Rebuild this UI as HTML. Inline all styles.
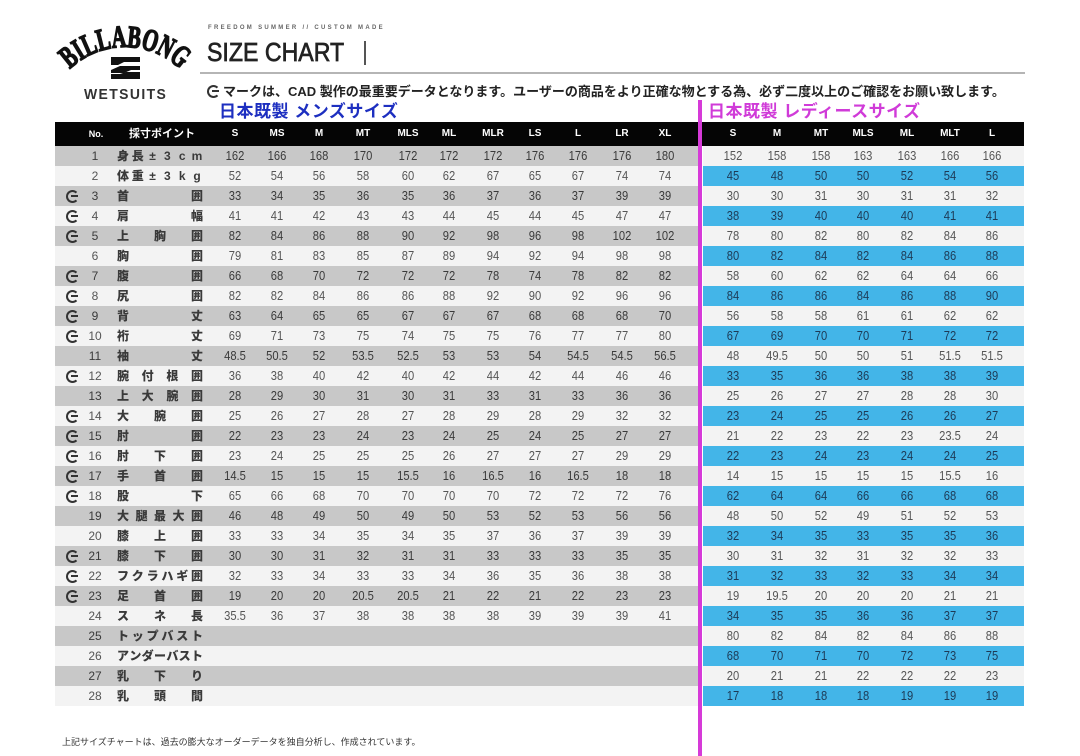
<!DOCTYPE html>
<html><head><meta charset="utf-8">
<style>
*{margin:0;padding:0;box-sizing:border-box}
body{width:1080px;height:756px;background:#fff;position:relative;overflow:hidden;font-family:"Liberation Sans","Noto Sans CJK JP",sans-serif}
.a{position:absolute}
.L{position:absolute;left:55px;width:643px;height:20px}
.R{position:absolute;left:703px;width:321px;height:20px}
.g1{background:#c8c8c8;color:#3a3a3a}
.w{background:#f3f3f3;color:#555}
.b{background:#43b5e8;color:#1d3a56}
.L i,.R i{position:absolute;top:0;width:40px;text-align:center;font-style:normal;font-size:13px;line-height:20px;transform:scaleX(.86)}
.L i:nth-of-type(1){left:160px}.L i:nth-of-type(2){left:202px}.L i:nth-of-type(3){left:244px}.L i:nth-of-type(4){left:288px}
.L i:nth-of-type(5){left:333px}.L i:nth-of-type(6){left:374px}.L i:nth-of-type(7){left:418px}.L i:nth-of-type(8){left:460px}
.L i:nth-of-type(9){left:503px}.L i:nth-of-type(10){left:547px}.L i:nth-of-type(11){left:590px}
.R i:nth-of-type(1){left:10px}.R i:nth-of-type(2){left:54px}.R i:nth-of-type(3){left:98px}.R i:nth-of-type(4){left:140px}
.R i:nth-of-type(5){left:184px}.R i:nth-of-type(6){left:227px}.R i:nth-of-type(7){left:269px}
.n{position:absolute;left:30px;top:0;width:20px;text-align:center;font-size:12px;line-height:20px}
.lb{position:absolute;left:62px;width:86px;top:0;height:20px;display:flex;justify-content:space-between;font-size:12px;line-height:20px;font-weight:bold;color:#3a3a3a}
.lb b{width:12px;text-align:center;display:block}
.g{position:absolute;width:13px;height:13px;border:2.2px solid #333;border-right-color:transparent;border-radius:50%}
.g::after{content:"";position:absolute;left:3px;top:3.3px;width:7px;height:2.2px;background:#333}
.L .g{left:11px;top:3.5px}
.h{position:absolute;top:122px;width:40px;text-align:center;color:#fff;font-weight:bold;font-size:10px;line-height:24px}
</style></head><body>

<svg class="a" style="left:0;top:0" width="210" height="110" viewBox="0 0 210 110">
<path id="arc" d="M 45 127 A 80 80 0 0 1 205 127" fill="none"/>
<text font-family="Liberation Serif" font-weight="bold" font-size="31" fill="#111" stroke="#111" stroke-width="1.6"><textPath href="#arc" startOffset="50%" text-anchor="middle" textLength="122" lengthAdjust="spacingAndGlyphs">BILLABONG</textPath></text>
<polygon points="111,57 140,57 140,62 124,62 118,65 111,65" fill="#111"/>
<polygon points="111,70 120,66 140,66 140,70 131,70 124,73 111,73" fill="#111"/>
<polygon points="111,74 120,74 126,72 140,72 140,79 111,79" fill="#111"/>
</svg>
<div class="a" style="left:84px;top:87px;font-size:15px;font-weight:bold;letter-spacing:1.5px;color:#333;line-height:16px;transform:scaleX(.93);transform-origin:left">WETSUITS</div>

<div class="a" style="left:208px;top:24px;font-size:6px;font-weight:bold;letter-spacing:2.3px;color:#666;line-height:8px">FREEDOM SUMMER // CUSTOM MADE</div>
<div class="a" style="left:207px;top:37px;font-size:26px;line-height:30px;color:#222;transform:scaleX(.89);transform-origin:left;-webkit-text-stroke:0.7px #222">SIZE CHART</div>
<div class="a" style="left:364px;top:41px;width:2px;height:24px;background:#555"></div>
<div class="a" style="left:200px;top:72px;width:825px;height:1.5px;background:#b5b5b5"></div>
<span class="g" style="left:207px;top:85px"></span>
<div class="a" style="left:223px;top:83px;font-size:13px;line-height:18px;color:#222;font-weight:bold;white-space:nowrap">マークは、CAD 製作の最重要データとなります。ユーザーの商品をより正確な物とする為、必ず二度以上のご確認をお願い致します。</div>
<div class="a" style="left:219px;top:101px;font-size:17px;line-height:22px;color:#1d2fc0;font-weight:bold;letter-spacing:.5px;white-space:nowrap">日本既製 メンズサイズ</div>
<div class="a" style="left:708px;top:101px;font-size:17px;line-height:22px;color:#d03bd8;font-weight:bold;letter-spacing:.5px;white-space:nowrap">日本既製 レディースサイズ</div>

<div class="a" style="left:55px;top:122px;width:969px;height:24px;background:#050505"></div>
<div class="h" style="left:76px;font-size:9px">No.</div>
<div class="a" style="left:129px;top:122px;color:#fff;font-weight:bold;font-size:11px;line-height:24px">採寸ポイント</div>
<div class="h" style="left:215px">S</div><div class="h" style="left:257px">MS</div><div class="h" style="left:299px">M</div><div class="h" style="left:343px">MT</div><div class="h" style="left:388px">MLS</div><div class="h" style="left:429px">ML</div><div class="h" style="left:473px">MLR</div><div class="h" style="left:515px">LS</div><div class="h" style="left:558px">L</div><div class="h" style="left:602px">LR</div><div class="h" style="left:645px">XL</div>
<div class="h" style="left:713px">S</div><div class="h" style="left:757px">M</div><div class="h" style="left:801px">MT</div><div class="h" style="left:843px">MLS</div><div class="h" style="left:887px">ML</div><div class="h" style="left:930px">MLT</div><div class="h" style="left:972px">L</div>

<!-- LEFT TABLE -->
<div class="L g1" style="top:146px"><span class="n">1</span><span class="lb"><b>身</b><b>長</b><b>±</b><b>3</b><b>c</b><b>m</b></span><i>162</i><i>166</i><i>168</i><i>170</i><i>172</i><i>172</i><i>172</i><i>176</i><i>176</i><i>176</i><i>180</i></div>
<div class="L w" style="top:166px"><span class="n">2</span><span class="lb"><b>体</b><b>重</b><b>±</b><b>3</b><b>k</b><b>g</b></span><i>52</i><i>54</i><i>56</i><i>58</i><i>60</i><i>62</i><i>67</i><i>65</i><i>67</i><i>74</i><i>74</i></div>
<div class="L g1" style="top:186px"><span class="g"></span><span class="n">3</span><span class="lb"><b>首</b><b>囲</b></span><i>33</i><i>34</i><i>35</i><i>36</i><i>35</i><i>36</i><i>37</i><i>36</i><i>37</i><i>39</i><i>39</i></div>
<div class="L w" style="top:206px"><span class="g"></span><span class="n">4</span><span class="lb"><b>肩</b><b>幅</b></span><i>41</i><i>41</i><i>42</i><i>43</i><i>43</i><i>44</i><i>45</i><i>44</i><i>45</i><i>47</i><i>47</i></div>
<div class="L g1" style="top:226px"><span class="g"></span><span class="n">5</span><span class="lb"><b>上</b><b>胸</b><b>囲</b></span><i>82</i><i>84</i><i>86</i><i>88</i><i>90</i><i>92</i><i>98</i><i>96</i><i>98</i><i>102</i><i>102</i></div>
<div class="L w" style="top:246px"><span class="n">6</span><span class="lb"><b>胸</b><b>囲</b></span><i>79</i><i>81</i><i>83</i><i>85</i><i>87</i><i>89</i><i>94</i><i>92</i><i>94</i><i>98</i><i>98</i></div>
<div class="L g1" style="top:266px"><span class="g"></span><span class="n">7</span><span class="lb"><b>腹</b><b>囲</b></span><i>66</i><i>68</i><i>70</i><i>72</i><i>72</i><i>72</i><i>78</i><i>74</i><i>78</i><i>82</i><i>82</i></div>
<div class="L w" style="top:286px"><span class="g"></span><span class="n">8</span><span class="lb"><b>尻</b><b>囲</b></span><i>82</i><i>82</i><i>84</i><i>86</i><i>86</i><i>88</i><i>92</i><i>90</i><i>92</i><i>96</i><i>96</i></div>
<div class="L g1" style="top:306px"><span class="g"></span><span class="n">9</span><span class="lb"><b>背</b><b>丈</b></span><i>63</i><i>64</i><i>65</i><i>65</i><i>67</i><i>67</i><i>67</i><i>68</i><i>68</i><i>68</i><i>70</i></div>
<div class="L w" style="top:326px"><span class="g"></span><span class="n">10</span><span class="lb"><b>裄</b><b>丈</b></span><i>69</i><i>71</i><i>73</i><i>75</i><i>74</i><i>75</i><i>75</i><i>76</i><i>77</i><i>77</i><i>80</i></div>
<div class="L g1" style="top:346px"><span class="n">11</span><span class="lb"><b>袖</b><b>丈</b></span><i>48.5</i><i>50.5</i><i>52</i><i>53.5</i><i>52.5</i><i>53</i><i>53</i><i>54</i><i>54.5</i><i>54.5</i><i>56.5</i></div>
<div class="L w" style="top:366px"><span class="g"></span><span class="n">12</span><span class="lb"><b>腕</b><b>付</b><b>根</b><b>囲</b></span><i>36</i><i>38</i><i>40</i><i>42</i><i>40</i><i>42</i><i>44</i><i>42</i><i>44</i><i>46</i><i>46</i></div>
<div class="L g1" style="top:386px"><span class="n">13</span><span class="lb"><b>上</b><b>大</b><b>腕</b><b>囲</b></span><i>28</i><i>29</i><i>30</i><i>31</i><i>30</i><i>31</i><i>33</i><i>31</i><i>33</i><i>36</i><i>36</i></div>
<div class="L w" style="top:406px"><span class="g"></span><span class="n">14</span><span class="lb"><b>大</b><b>腕</b><b>囲</b></span><i>25</i><i>26</i><i>27</i><i>28</i><i>27</i><i>28</i><i>29</i><i>28</i><i>29</i><i>32</i><i>32</i></div>
<div class="L g1" style="top:426px"><span class="g"></span><span class="n">15</span><span class="lb"><b>肘</b><b>囲</b></span><i>22</i><i>23</i><i>23</i><i>24</i><i>23</i><i>24</i><i>25</i><i>24</i><i>25</i><i>27</i><i>27</i></div>
<div class="L w" style="top:446px"><span class="g"></span><span class="n">16</span><span class="lb"><b>肘</b><b>下</b><b>囲</b></span><i>23</i><i>24</i><i>25</i><i>25</i><i>25</i><i>26</i><i>27</i><i>27</i><i>27</i><i>29</i><i>29</i></div>
<div class="L g1" style="top:466px"><span class="g"></span><span class="n">17</span><span class="lb"><b>手</b><b>首</b><b>囲</b></span><i>14.5</i><i>15</i><i>15</i><i>15</i><i>15.5</i><i>16</i><i>16.5</i><i>16</i><i>16.5</i><i>18</i><i>18</i></div>
<div class="L w" style="top:486px"><span class="g"></span><span class="n">18</span><span class="lb"><b>股</b><b>下</b></span><i>65</i><i>66</i><i>68</i><i>70</i><i>70</i><i>70</i><i>70</i><i>72</i><i>72</i><i>72</i><i>76</i></div>
<div class="L g1" style="top:506px"><span class="n">19</span><span class="lb"><b>大</b><b>腿</b><b>最</b><b>大</b><b>囲</b></span><i>46</i><i>48</i><i>49</i><i>50</i><i>49</i><i>50</i><i>53</i><i>52</i><i>53</i><i>56</i><i>56</i></div>
<div class="L w" style="top:526px"><span class="n">20</span><span class="lb"><b>膝</b><b>上</b><b>囲</b></span><i>33</i><i>33</i><i>34</i><i>35</i><i>34</i><i>35</i><i>37</i><i>36</i><i>37</i><i>39</i><i>39</i></div>
<div class="L g1" style="top:546px"><span class="g"></span><span class="n">21</span><span class="lb"><b>膝</b><b>下</b><b>囲</b></span><i>30</i><i>30</i><i>31</i><i>32</i><i>31</i><i>31</i><i>33</i><i>33</i><i>33</i><i>35</i><i>35</i></div>
<div class="L w" style="top:566px"><span class="g"></span><span class="n">22</span><span class="lb"><b>フ</b><b>ク</b><b>ラ</b><b>ハ</b><b>ギ</b><b>囲</b></span><i>32</i><i>33</i><i>34</i><i>33</i><i>33</i><i>34</i><i>36</i><i>35</i><i>36</i><i>38</i><i>38</i></div>
<div class="L g1" style="top:586px"><span class="g"></span><span class="n">23</span><span class="lb"><b>足</b><b>首</b><b>囲</b></span><i>19</i><i>20</i><i>20</i><i>20.5</i><i>20.5</i><i>21</i><i>22</i><i>21</i><i>22</i><i>23</i><i>23</i></div>
<div class="L w" style="top:606px"><span class="n">24</span><span class="lb"><b>ス</b><b>ネ</b><b>長</b></span><i>35.5</i><i>36</i><i>37</i><i>38</i><i>38</i><i>38</i><i>38</i><i>39</i><i>39</i><i>39</i><i>41</i></div>
<div class="L g1" style="top:626px"><span class="n">25</span><span class="lb"><b>ト</b><b>ッ</b><b>プ</b><b>バ</b><b>ス</b><b>ト</b></span></div>
<div class="L w" style="top:646px"><span class="n">26</span><span class="lb"><b>ア</b><b>ン</b><b>ダ</b><b>ー</b><b>バ</b><b>ス</b><b>ト</b></span></div>
<div class="L g1" style="top:666px"><span class="n">27</span><span class="lb"><b>乳</b><b>下</b><b>り</b></span></div>
<div class="L w" style="top:686px"><span class="n">28</span><span class="lb"><b>乳</b><b>頭</b><b>間</b></span></div>

<!-- RIGHT TABLE -->
<div class="R w" style="top:146px"><i>152</i><i>158</i><i>158</i><i>163</i><i>163</i><i>166</i><i>166</i></div>
<div class="R b" style="top:166px"><i>45</i><i>48</i><i>50</i><i>50</i><i>52</i><i>54</i><i>56</i></div>
<div class="R w" style="top:186px"><i>30</i><i>30</i><i>31</i><i>30</i><i>31</i><i>31</i><i>32</i></div>
<div class="R b" style="top:206px"><i>38</i><i>39</i><i>40</i><i>40</i><i>40</i><i>41</i><i>41</i></div>
<div class="R w" style="top:226px"><i>78</i><i>80</i><i>82</i><i>80</i><i>82</i><i>84</i><i>86</i></div>
<div class="R b" style="top:246px"><i>80</i><i>82</i><i>84</i><i>82</i><i>84</i><i>86</i><i>88</i></div>
<div class="R w" style="top:266px"><i>58</i><i>60</i><i>62</i><i>62</i><i>64</i><i>64</i><i>66</i></div>
<div class="R b" style="top:286px"><i>84</i><i>86</i><i>86</i><i>84</i><i>86</i><i>88</i><i>90</i></div>
<div class="R w" style="top:306px"><i>56</i><i>58</i><i>58</i><i>61</i><i>61</i><i>62</i><i>62</i></div>
<div class="R b" style="top:326px"><i>67</i><i>69</i><i>70</i><i>70</i><i>71</i><i>72</i><i>72</i></div>
<div class="R w" style="top:346px"><i>48</i><i>49.5</i><i>50</i><i>50</i><i>51</i><i>51.5</i><i>51.5</i></div>
<div class="R b" style="top:366px"><i>33</i><i>35</i><i>36</i><i>36</i><i>38</i><i>38</i><i>39</i></div>
<div class="R w" style="top:386px"><i>25</i><i>26</i><i>27</i><i>27</i><i>28</i><i>28</i><i>30</i></div>
<div class="R b" style="top:406px"><i>23</i><i>24</i><i>25</i><i>25</i><i>26</i><i>26</i><i>27</i></div>
<div class="R w" style="top:426px"><i>21</i><i>22</i><i>23</i><i>22</i><i>23</i><i>23.5</i><i>24</i></div>
<div class="R b" style="top:446px"><i>22</i><i>23</i><i>24</i><i>23</i><i>24</i><i>24</i><i>25</i></div>
<div class="R w" style="top:466px"><i>14</i><i>15</i><i>15</i><i>15</i><i>15</i><i>15.5</i><i>16</i></div>
<div class="R b" style="top:486px"><i>62</i><i>64</i><i>64</i><i>66</i><i>66</i><i>68</i><i>68</i></div>
<div class="R w" style="top:506px"><i>48</i><i>50</i><i>52</i><i>49</i><i>51</i><i>52</i><i>53</i></div>
<div class="R b" style="top:526px"><i>32</i><i>34</i><i>35</i><i>33</i><i>35</i><i>35</i><i>36</i></div>
<div class="R w" style="top:546px"><i>30</i><i>31</i><i>32</i><i>31</i><i>32</i><i>32</i><i>33</i></div>
<div class="R b" style="top:566px"><i>31</i><i>32</i><i>33</i><i>32</i><i>33</i><i>34</i><i>34</i></div>
<div class="R w" style="top:586px"><i>19</i><i>19.5</i><i>20</i><i>20</i><i>20</i><i>21</i><i>21</i></div>
<div class="R b" style="top:606px"><i>34</i><i>35</i><i>35</i><i>36</i><i>36</i><i>37</i><i>37</i></div>
<div class="R w" style="top:626px"><i>80</i><i>82</i><i>84</i><i>82</i><i>84</i><i>86</i><i>88</i></div>
<div class="R b" style="top:646px"><i>68</i><i>70</i><i>71</i><i>70</i><i>72</i><i>73</i><i>75</i></div>
<div class="R w" style="top:666px"><i>20</i><i>21</i><i>21</i><i>22</i><i>22</i><i>22</i><i>23</i></div>
<div class="R b" style="top:686px"><i>17</i><i>18</i><i>18</i><i>18</i><i>19</i><i>19</i><i>19</i></div>

<div class="a" style="left:698px;top:100px;width:4px;height:656px;background:#d63ad8"></div>

<div class="a" style="left:62px;top:736px;font-size:9px;line-height:12px;color:#333;white-space:nowrap">上記サイズチャートは、過去の膨大なオーダーデータを独自分析し、作成されています。</div>
</body></html>
